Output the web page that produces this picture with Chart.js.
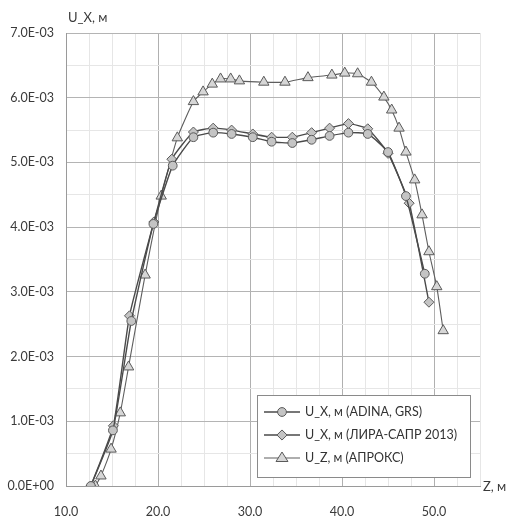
<!DOCTYPE html>
<html>
<head>
<meta charset="utf-8">
<script src="https://cdn.jsdelivr.net/npm/chart.js@4/dist/chart.umd.min.js"></script>
<style>
  html, body { margin: 0; padding: 0; background: #fff; }
  #wrap { position: relative; width: 509px; height: 517px; }
</style>
</head>
<body>
<div id="wrap"><canvas id="c" width="509" height="517"></canvas></div>
<script>
// Displacement along the height Z, m
const adinaZ  = [12.7, 15.1, 17.1, 19.5, 21.6, 23.85, 26.0, 28.0, 30.3, 32.35, 34.6, 36.7, 38.65, 40.7, 42.8, 45.0, 46.95, 49.0];
const adinaUx = [0.0e-3, 0.86e-3, 2.55e-3, 4.05e-3, 4.95e-3, 5.39e-3, 5.46e-3, 5.44e-3, 5.39e-3, 5.32e-3, 5.30e-3, 5.35e-3, 5.41e-3, 5.46e-3, 5.44e-3, 5.16e-3, 4.48e-3, 3.28e-3];

const liraZ  = [12.7, 15.15, 16.9, 19.55, 21.5, 23.85, 26.0, 28.0, 30.3, 32.35, 34.6, 36.7, 38.65, 40.7, 42.8, 45.0, 47.3, 49.45];
const liraUx = [0.0e-3, 0.93e-3, 2.63e-3, 4.08e-3, 5.05e-3, 5.47e-3, 5.53e-3, 5.50e-3, 5.44e-3, 5.39e-3, 5.39e-3, 5.46e-3, 5.53e-3, 5.60e-3, 5.52e-3, 5.14e-3, 4.37e-3, 2.84e-3];

const aproksZ  = [13.2, 13.8, 14.9, 15.9, 16.8, 18.6, 20.35, 22.1, 23.85, 24.9, 25.9, 26.8, 27.9, 28.85, 31.5, 33.8, 36.3, 38.9, 40.3, 41.7, 43.2, 44.55, 45.4, 46.2, 46.95, 47.9, 48.7, 49.45, 50.3, 51.0];
const aproksUz = [0.0e-3, 0.155e-3, 0.57e-3, 1.13e-3, 1.84e-3, 3.26e-3, 4.48e-3, 5.38e-3, 5.94e-3, 6.09e-3, 6.21e-3, 6.29e-3, 6.29e-3, 6.26e-3, 6.24e-3, 6.24e-3, 6.31e-3, 6.35e-3, 6.38e-3, 6.37e-3, 6.24e-3, 6.01e-3, 5.81e-3, 5.53e-3, 5.16e-3, 4.73e-3, 4.19e-3, 3.62e-3, 3.08e-3, 2.40e-3];

const seriesNames = ['U_X, м (ADINA, GRS)', 'U_X, м (ЛИРА-САПР 2013)', 'U_Z, м (АПРОКС)'];
const yTitle = 'U_X, м';
const xTitle = 'Z, м';

const FONT = 'Lato, "Open Sans", sans-serif';
const pts = (xs, ys) => xs.map((x, i) => ({ x, y: ys[i] }));

const fmtY = v => {
  if (Math.abs(v) < 1e-12) return '0.0E+00';
  return (v / 1e-3).toFixed(1) + 'E-03';
};

const datasets = [
  {
    label: seriesNames[0], data: pts(adinaZ, adinaUx),
    borderColor: '#4a4a4a', borderWidth: 1.4,
    pointStyle: 'circle', pointRadius: 4.4,
    pointBackgroundColor: '#c4c4c4', pointBorderColor: '#5a5a5a', pointBorderWidth: 1
  },
  {
    label: seriesNames[1], data: pts(liraZ, liraUx),
    borderColor: '#4a4a4a', borderWidth: 1.4,
    pointStyle: 'rectRot', pointRadius: 5,
    pointBackgroundColor: '#c4c4c4', pointBorderColor: '#5a5a5a', pointBorderWidth: 1
  },
  {
    label: seriesNames[2], data: pts(aproksZ, aproksUz),
    borderColor: '#5e5e5e', borderWidth: 1.1,
    pointStyle: 'triangle', pointRadius: 6,
    pointBackgroundColor: '#d6d6d6', pointBorderColor: '#5a5a5a', pointBorderWidth: 1
  }
];

// Draws a marker in the legend using the dataset style
function drawMarker(ctx, ds, x, y) {
  const r = ds.pointRadius;
  ctx.save();
  ctx.fillStyle = ds.pointBackgroundColor;
  ctx.strokeStyle = ds.pointBorderColor;
  ctx.lineWidth = ds.pointBorderWidth;
  ctx.beginPath();
  if (ds.pointStyle === 'circle') {
    ctx.arc(x, y, r, 0, Math.PI * 2);
  } else if (ds.pointStyle === 'rectRot') {
    const d = r * Math.SQRT2 / 1.4;
    ctx.moveTo(x, y - d); ctx.lineTo(x + d, y); ctx.lineTo(x, y + d); ctx.lineTo(x - d, y);
    ctx.closePath();
  } else {
    const w = r * Math.sqrt(3) / 2 * 1.15;
    ctx.moveTo(x, y - r); ctx.lineTo(x + w, y + r / 2 + 0.5); ctx.lineTo(x - w, y + r / 2 + 0.5);
    ctx.closePath();
  }
  ctx.fill(); ctx.stroke();
  ctx.restore();
}

const overlay = {
  id: 'overlay',
  afterDraw(chart) {
    const { ctx, chartArea: a } = chart;
    ctx.save();
    ctx.fillStyle = '#3a3a3a';
    ctx.font = '13px ' + FONT;
    ctx.textBaseline = 'middle';
    ctx.textAlign = 'left';
    ctx.fillText(yTitle, a.left + 2, a.top - 15);
    ctx.fillText(xTitle, a.right + 3, a.bottom + 1);

    // legend box
    const bx = 257, by = 395, bw = 213, bh = 82;
    ctx.fillStyle = '#ffffff';
    ctx.fillRect(bx, by, bw, bh);
    ctx.strokeStyle = '#8a8a8a';
    ctx.lineWidth = 1;
    ctx.strokeRect(bx + 0.5, by + 0.5, bw, bh);
    const rows = [412, 435, 458];
    chart.data.datasets.forEach((ds, i) => {
      const y = rows[i];
      ctx.strokeStyle = ds.borderColor;
      ctx.lineWidth = ds.borderWidth;
      ctx.beginPath();
      ctx.moveTo(264, y); ctx.lineTo(300, y);
      ctx.stroke();
      drawMarker(ctx, ds, 282, y);
      ctx.fillStyle = '#333';
      ctx.font = '12.5px ' + FONT;
      ctx.fillText(ds.label, 305, y);
    });
    ctx.restore();
  }
};

const isMajorX = v => Math.abs(v / 10 - Math.round(v / 10)) < 1e-6;
const isMajorY = v => Math.abs(v / 1e-3 - Math.round(v / 1e-3)) < 1e-6;

new Chart(document.getElementById('c'), {
  type: 'scatter',
  data: { datasets: datasets.map(d => Object.assign({ showLine: true, tension: 0.15, fill: false }, d)) },
  options: {
    responsive: false,
    animation: false,
    devicePixelRatio: 1,
    layout: { padding: { left: 0, top: 33, right: 29, bottom: 0 } },
    plugins: { legend: { display: false }, tooltip: { enabled: false } },
    scales: {
      x: {
        type: 'linear', min: 10, max: 55,
        afterFit(s) { s.height = 31; },
        afterBuildTicks(s) {
          const t = [];
          for (let i = 0; i <= 18; i++) t.push({ value: 10 + i * 2.5 });
          s.ticks = t;
        },
        ticks: {
          padding: 18, color: '#3a3a3a', font: { family: FONT, size: 12.5 }, maxRotation: 0, autoSkip: false,
          callback: v => (isMajorX(v) && v <= 50 ? v.toFixed(1) : '')
        },
        grid: {
          drawTicks: false,
          color: c => (isMajorX(c.tick.value) ? '#b0b0b0' : '#e6e6e6'),
          lineWidth: 1
        },
        border: { color: '#9a9a9a' }
      },
      y: {
        type: 'linear', min: 0, max: 7e-3,
        afterFit(s) { s.width = 66; },
        afterBuildTicks(s) {
          const t = [];
          for (let i = 0; i <= 14; i++) t.push({ value: i * 0.5e-3 });
          s.ticks = t;
        },
        ticks: {
          padding: 12, color: '#3a3a3a', font: { family: FONT, size: 12.5 }, autoSkip: false,
          callback: v => (isMajorY(v) ? fmtY(v) : '')
        },
        grid: {
          drawTicks: false,
          color: c => (isMajorY(c.tick.value) ? '#b4b4b4' : '#e6e6e6'),
          lineWidth: 1
        },
        border: { color: '#9a9a9a' }
      }
    }
  },
  plugins: [overlay]
});
</script>
</body>
</html>
